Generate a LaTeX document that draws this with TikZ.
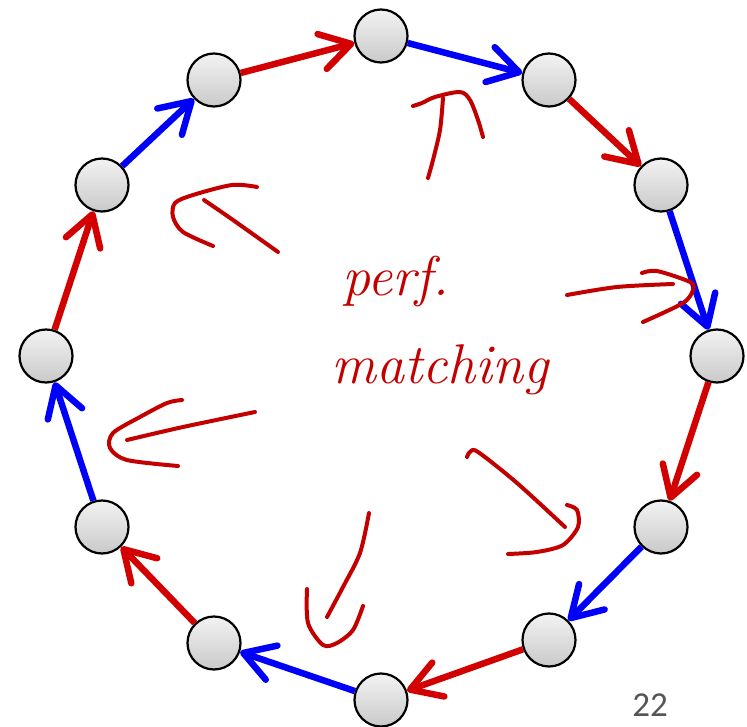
\documentclass[tikz,border=0pt]{standalone}
\usepackage{fontspec}
\newfontfamily\pagefont{Carlito}
\usetikzlibrary{arrows.meta}
\definecolor{arrred}{RGB}{210,0,0}
\definecolor{arrblue}{RGB}{0,0,250}
\definecolor{ink}{RGB}{195,0,0}
\definecolor{pagegray}{RGB}{85,85,85}
\begin{document}
\begin{tikzpicture}[x=1pt,y=-1pt,
  vtx/.style={circle,draw=black,line width=2.2pt,minimum size=53pt,inner sep=0pt,top color=gray!10,bottom color=gray!42},
  arr/.style={line width=6.5pt,-{Straight Barb[length=30pt,width=36pt,round]}},
  rarr/.style={arr,draw=arrred},
  barr/.style={arr,draw=arrblue},
  scrib/.style={draw=ink,line width=4pt,line cap=round,line join=round},
  hand/.style={text=ink,font=\fontsize{56}{56}\selectfont\itshape,inner sep=0pt}
]
\useasboundingbox (0,0) rectangle (747,727);
% vertices, clockwise from top
\node[vtx] (v0) at (381,36) {};
\node[vtx] (v1) at (549,80) {};
\node[vtx] (v2) at (661,185) {};
\node[vtx] (v3) at (717,356) {};
\node[vtx] (v4) at (661,527) {};
\node[vtx] (v5) at (549,640) {};
\node[vtx] (v6) at (381,700) {};
\node[vtx] (v7) at (214,643) {};
\node[vtx] (v8) at (102,527) {};
\node[vtx] (v9) at (46,356) {};
\node[vtx] (v10) at (102,185) {};
\node[vtx] (v11) at (214,80) {};
% cycle edges
\draw[barr] (v0) -- (v1);
\draw[rarr] (v1) -- (v2);
\draw[barr] (v2) -- (v3);
\draw[rarr] (v3) -- (v4);
\draw[barr] (v4) -- (v5);
\draw[rarr] (v5) -- (v6);
\draw[barr] (v6) -- (v7);
\draw[rarr] (v7) -- (v8);
\draw[barr] (v8) -- (v9);
\draw[rarr] (v9) -- (v10);
\draw[barr] (v10) -- (v11);
\draw[rarr] (v11) -- (v0);
% handwritten label
\node[hand] (perf) at (396,282) {perf.};
\node[hand] (match) at (440,370) {matching};
% handwritten rotation arrows
\draw[scrib] plot[smooth] coordinates {(413,106) (422,103) (435,97) (460,92) (470,100) (478,120) (483,137)};
\draw[scrib] plot[smooth] coordinates {(443,98) (440,130) (433,160) (428,178)};
\draw[scrib] plot[smooth] coordinates {(257,187) (232,185) (193,195) (175,203) (173,217) (183,232) (213,246)};
\draw[scrib] plot[smooth] coordinates {(204,200) (233,220) (278,252)};
\draw[scrib] plot[smooth] coordinates {(567,295) (617,287) (673,284)};
\draw[scrib] plot[smooth] coordinates {(642,273) (657,271) (690,282) (693,290) (683,303) (643,322)};
\draw[scrib] plot[smooth] coordinates {(182,400) (167,403) (140,417) (113,433) (110,448) (127,460) (178,466)};
\draw[scrib] plot[smooth] coordinates {(255,412) (183,427) (127,440)};
\draw[scrib] plot[smooth] coordinates {(467,457) (470,452) (478,452) (517,483) (565,527)};
\draw[scrib] plot[smooth] coordinates {(567,505) (577,510) (578,527) (563,545) (537,552) (508,554)};
\draw[scrib] plot[smooth] coordinates {(369,513) (360,553) (343,587) (327,617)};
\draw[scrib] plot[smooth] coordinates {(307,589) (308,623) (323,645) (337,643) (353,630) (363,606)};
% page number
\node[text=pagegray,font=\pagefont\fontsize{35}{35}\selectfont,anchor=base,inner sep=0pt,text depth=0pt] (pg) at (650,716) {22};
\end{tikzpicture}
\end{document}
